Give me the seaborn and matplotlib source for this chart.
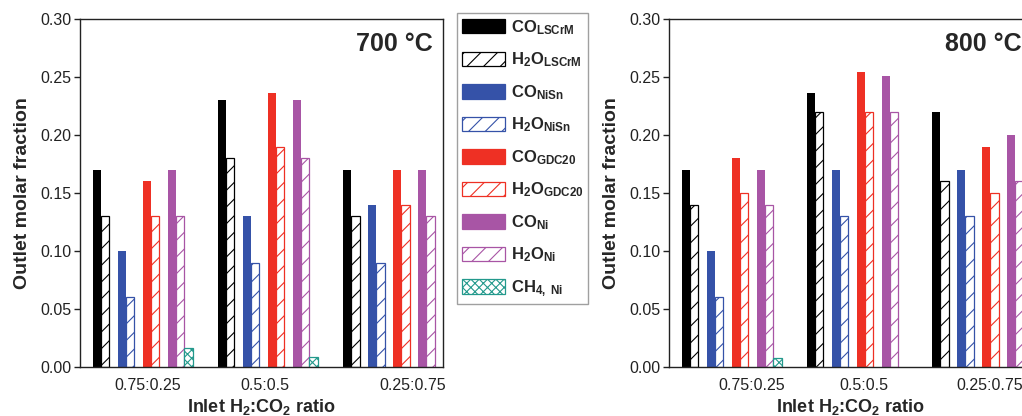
import numpy as np
import pandas as pd
import seaborn as sns
import matplotlib
matplotlib.use("Agg")
import matplotlib.pyplot as plt
from matplotlib.patches import Patch

# ---------------- data ----------------
ratios = ["0.75:0.25", "0.5:0.5", "0.25:0.75"]
series = ["CO_LSCrM", "H2O_LSCrM", "CO_NiSn", "H2O_NiSn",
          "CO_GDC20", "H2O_GDC20", "CO_Ni", "H2O_Ni", "CH4_Ni"]
legend_labels = [r"$\mathbf{CO_{LSCrM}}$", r"$\mathbf{H_2O_{LSCrM}}$",
                 r"$\mathbf{CO_{NiSn}}$", r"$\mathbf{H_2O_{NiSn}}$",
                 r"$\mathbf{CO_{GDC20}}$", r"$\mathbf{H_2O_{GDC20}}$",
                 r"$\mathbf{CO_{Ni}}$", r"$\mathbf{H_2O_{Ni}}$",
                 r"$\mathbf{CH_{4,\ Ni}}$"]

# 700 °C
co_lscrm_700 = [0.17, 0.23, 0.17]
h2o_lscrm_700 = [0.13, 0.18, 0.13]
co_nisn_700 = [0.10, 0.13, 0.14]
h2o_nisn_700 = [0.06, 0.09, 0.09]
co_gdc_700 = [0.16, 0.236, 0.17]
h2o_gdc_700 = [0.13, 0.19, 0.14]
co_ni_700 = [0.17, 0.23, 0.17]
h2o_ni_700 = [0.13, 0.18, 0.13]
ch4_ni_700 = [0.016, 0.009, 0.0]

# 800 °C
co_lscrm_800 = [0.17, 0.236, 0.22]
h2o_lscrm_800 = [0.14, 0.22, 0.16]
co_nisn_800 = [0.10, 0.17, 0.17]
h2o_nisn_800 = [0.06, 0.13, 0.13]
co_gdc_800 = [0.18, 0.254, 0.19]
h2o_gdc_800 = [0.15, 0.22, 0.15]
co_ni_800 = [0.17, 0.251, 0.20]
h2o_ni_800 = [0.14, 0.22, 0.16]
ch4_ni_800 = [0.008, 0.0, 0.0]

data_700 = [co_lscrm_700, h2o_lscrm_700, co_nisn_700, h2o_nisn_700,
            co_gdc_700, h2o_gdc_700, co_ni_700, h2o_ni_700, ch4_ni_700]
data_800 = [co_lscrm_800, h2o_lscrm_800, co_nisn_800, h2o_nisn_800,
            co_gdc_800, h2o_gdc_800, co_ni_800, h2o_ni_800, ch4_ni_800]

# ---------------- styles ----------------
BLACK, BLUE, RED, PURPLE, TEAL = "#000000", "#3552a8", "#ee3024", "#a855a5", "#23998c"
styles = {
    "CO_LSCrM": dict(face=BLACK, edge=BLACK, hatch=None),
    "H2O_LSCrM": dict(face="white", edge=BLACK, hatch="//"),
    "CO_NiSn": dict(face=BLUE, edge=BLUE, hatch=None),
    "H2O_NiSn": dict(face="white", edge=BLUE, hatch="//"),
    "CO_GDC20": dict(face=RED, edge=RED, hatch=None),
    "H2O_GDC20": dict(face="white", edge=RED, hatch="//"),
    "CO_Ni": dict(face=PURPLE, edge=PURPLE, hatch=None),
    "H2O_Ni": dict(face="white", edge=PURPLE, hatch="//"),
    "CH4_Ni": dict(face="white", edge=TEAL, hatch="xxxx"),
}
# slots with empty spacer levels between the material pairs
hue_order = ["CO_LSCrM", "H2O_LSCrM", "_g1", "CO_NiSn", "H2O_NiSn", "_g2",
             "CO_GDC20", "H2O_GDC20", "_g3", "CO_Ni", "H2O_Ni", "CH4_Ni"]
palette = {h: (styles[h]["face"] if h in styles else "white") for h in hue_order}

sns.set_theme(style="white")
plt.rcParams["font.family"] = ["Liberation Sans", "DejaVu Sans"]
plt.rcParams["mathtext.fontset"] = "custom"
plt.rcParams["mathtext.rm"] = "Liberation Sans"
plt.rcParams["mathtext.bf"] = "Liberation Sans:bold"
plt.rcParams["mathtext.it"] = "Liberation Sans:italic"
plt.rcParams["hatch.linewidth"] = 0.8

W, H = 1022, 416
fig = plt.figure(figsize=(W / 100, H / 100), dpi=100)

def make_df(data):
    rows = []
    for s, vals in zip(series, data):
        for r, v in zip(ratios, vals):
            if v > 0:
                rows.append(dict(ratio=r, series=s, value=v))
    return pd.DataFrame(rows)

def panel(rect, data, title, tick_offsets):
    ax = fig.add_axes(rect)
    df = make_df(data)
    sns.barplot(data=df, x="ratio", y="value", hue="series", order=ratios,
                hue_order=hue_order, palette=palette, width=0.8,
                legend=False, ax=ax, saturation=1)
    nslot = len(hue_order)
    sw = 0.8 / nslot
    for p in ax.patches:
        xc = p.get_x() + p.get_width() / 2
        g = int(round(xc))
        slot = int(round((xc - g + 0.4) / sw - 0.5))
        name = hue_order[slot]
        st = styles[name]
        p.set_facecolor(st["face"])
        p.set_edgecolor(st["edge"])
        if st["hatch"]:
            p.set_hatch(st["hatch"])
            p.set_linewidth(0.9)
        else:
            p.set_linewidth(0)
    ax.set_xlim(-0.5, 2.4)
    ax.set_ylim(0, 0.30)
    ax.set_yticks(np.arange(0, 0.301, 0.05))
    ax.set_yticklabels([f"{v:.2f}" for v in np.arange(0, 0.301, 0.05)])
    ax.set_xticks(np.arange(3) + np.array(tick_offsets))
    ax.set_xticklabels(ratios)
    ax.tick_params(axis="x", length=0, pad=8, labelsize=11.5, colors="#222222")
    ax.tick_params(axis="y", direction="out", length=4, width=1, pad=2,
                   labelsize=11.5, left=True, colors="#222222")
    for sp in ax.spines.values():
        sp.set_visible(True)
        sp.set_color("#222222")
        sp.set_linewidth(1.0)
    ax.set_ylabel("Outlet molar fraction", fontsize=14, fontweight="bold",
                  labelpad=7)
    ax.set_xlabel(r"Inlet H$_\mathbf{2}$:CO$_\mathbf{2}$ ratio", fontsize=13,
                  fontweight="bold", labelpad=3)
    ax.text(0.972, 0.928, title, transform=ax.transAxes, ha="right",
            va="center", fontsize=18, fontweight="bold")
    return ax

ax1 = panel([80 / W, 49 / H, 363 / W, 348 / H], data_700, "700 °C",
            [0.04, -0.02, 0.16])
ax2 = panel([669 / W, 49 / H, 363 / W, 348 / H], data_800, "800 °C",
            [0.16, 0.06, 0.06])

handles = []
for s in series:
    st = styles[s]
    handles.append(Patch(facecolor=st["face"], edgecolor=st["edge"],
                         hatch=st["hatch"], linewidth=0.9))
leg = fig.legend(handles, legend_labels, loc="upper left",
                 bbox_to_anchor=(457 / W, 1 - 13 / H), fontsize=12,
                 frameon=True, fancybox=False, handlelength=2.6,
                 handleheight=0.95, labelspacing=0.83, handletextpad=0.32,
                 borderpad=0.3, borderaxespad=0)
leg.get_frame().set_edgecolor("#888888")
leg.get_frame().set_linewidth(1.0)

fig.savefig("out.png", dpi=100)
